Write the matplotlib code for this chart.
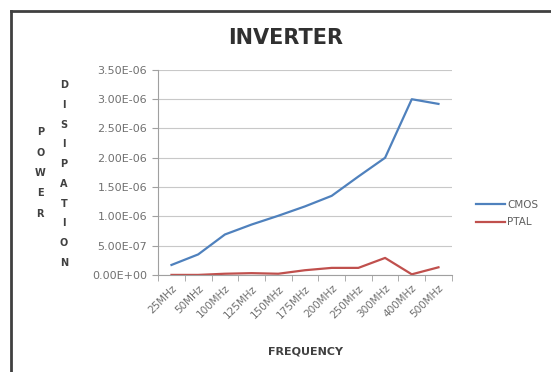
import numpy as np
import matplotlib.pyplot as plt
from matplotlib.ticker import FuncFormatter

freqs = ['25MHz', '50MHz', '100MHz', '125MHz', '150MHz', '175MHz',
         '200MHz', '250MHz', '300MHz', '400MHz', '500MHz']
cmos = [0.17e-6, 0.35e-6, 0.69e-6, 0.86e-6, 1.01e-6, 1.17e-6,
        1.35e-6, 1.68e-6, 2.0e-6, 3.0e-6, 2.92e-6]
ptal = [0.0, 0.0, 0.02e-6, 0.03e-6, 0.02e-6, 0.08e-6,
        0.12e-6, 0.12e-6, 0.29e-6, 0.01e-6, 0.13e-6]
yticks = np.arange(0, 3.51e-6, 0.5e-6)

fig = plt.figure(figsize=(5.51, 3.72), dpi=100)
ax = fig.add_axes([0.287, 0.261, 0.533, 0.551])

x = np.arange(len(freqs))
ax.plot(x, cmos, color='#4F81BD', lw=1.6, label='CMOS')
ax.plot(x, ptal, color='#C0504D', lw=1.6, label='PTAL')

ax.set_xlim(-0.5, len(freqs) - 0.5)
ax.set_ylim(0, 3.5e-6)
ax.set_yticks(yticks)
ax.yaxis.set_major_formatter(FuncFormatter(lambda v, p: '%.2E' % v))
ax.set_xticks(x)
ax.set_xticklabels(freqs, rotation=45, ha='right', rotation_mode='anchor')
ax.set_xticks(np.arange(-0.5, len(freqs)), minor=True)

ax.grid(axis='y', color='#c8c8c8', lw=0.8)
ax.set_axisbelow(True)
for s in ['top', 'right']:
    ax.spines[s].set_visible(False)
for s in ['left', 'bottom']:
    ax.spines[s].set_color('#a0a0a0')
ax.tick_params(axis='y', colors='#a0a0a0', labelcolor='#707070',
               labelsize=8, length=4, pad=4)
ax.tick_params(axis='x', which='major', length=0, labelcolor='#707070',
               labelsize=7.5, pad=6)
ax.tick_params(axis='x', which='minor', length=4, color='#a0a0a0')

# title and axis captions
fig.text(0.519, 0.898, 'INVERTER', fontsize=15, fontweight='bold',
         color='#303030', ha='center', va='center')
fig.text(0.554, 0.054, 'FREQUENCY', fontsize=8, fontweight='bold',
         color='#404040', ha='center', va='center')
fig.text(0.073, 0.535, '\n'.join('POWER'), fontsize=7, fontweight='bold',
         color='#404040', ha='center', va='center', linespacing=2.3)
fig.text(0.116, 0.532, '\n'.join('DISIPATION'), fontsize=7, fontweight='bold',
         color='#404040', ha='center', va='center', linespacing=2.22)

ax.legend(loc='center left', bbox_to_anchor=(1.05, 0.30), frameon=False,
          fontsize=7.5, handlelength=2.8, handletextpad=0.2, labelspacing=0.75,
          labelcolor='#606060')

# chart frame
fig.add_artist(plt.Line2D([0.02, 0.02], [0.0, 0.971], color='#404040',
                          lw=2, transform=fig.transFigure))
fig.add_artist(plt.Line2D([0.02, 1.0], [0.971, 0.971], color='#404040',
                          lw=2, transform=fig.transFigure))

fig.savefig('out.png', dpi=100)
